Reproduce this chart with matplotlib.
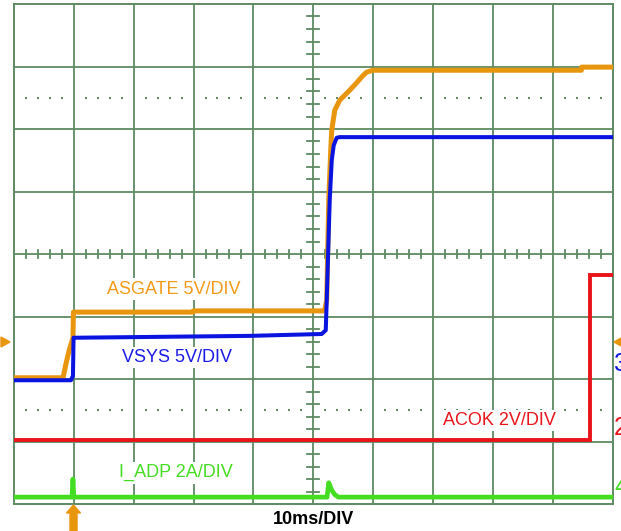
import matplotlib
matplotlib.use("Agg")
import matplotlib.pyplot as plt
import numpy as np

plt.rcParams['font.family'] = ['Liberation Sans', 'DejaVu Sans']

# time in ms (10 ms/div), level in screen divisions (0..8)
asgate_t = [0, 8.2, 8.7, 9.2, 9.85, 9.93, 29.9, 30.0, 51.9, 52.25, 52.59, 52.92, 53.09,
            53.59, 54.42, 55.26, 56.09, 57.26, 58.26, 58.93, 59.93, 94.8, 94.85, 99.9]
asgate_v = [2.02, 2.02, 2.25, 2.45, 2.66, 3.07, 3.07, 3.09, 3.09, 3.26, 4.86, 5.66, 5.98,
            6.30, 6.46, 6.54, 6.62, 6.74, 6.85, 6.91, 6.94, 6.94, 6.99, 6.99]

vsys_t = [0, 9.52, 9.85, 9.95, 39.4, 51.4, 52.09, 52.25, 52.75, 53.09, 53.42, 53.92, 54.42, 99.9]
vsys_v = [1.98, 1.98, 2.05, 2.66, 2.69, 2.72, 2.78, 3.26, 4.86, 5.50, 5.74, 5.86, 5.87, 5.87]

acok_t = [0, 96.2, 96.2, 99.9]
acok_v = [1.02, 1.02, 3.66, 3.66]

iadp_t = [0, 9.7, 9.85, 10.0, 52.3, 52.59, 53.1, 53.6, 54.2, 99.9]
iadp_v = [0.11, 0.11, 0.40, 0.11, 0.11, 0.34, 0.22, 0.15, 0.11, 0.11]

grid_c = "#5f8a62"
c_orange = "#e8960e"
c_blue = "#0a14e0"
c_red = "#e8141a"
c_green = "#44dd22"

W, H = 621, 531


def fpt(x, y):
    # pixel position -> figure fraction
    return [x / W, 1 - y / H]


fig = plt.figure(figsize=(6.21, 5.31), dpi=100)
ax = fig.add_axes([14 / W, 27 / H, 598.5 / W, 500 / H])
ax.set_xlim(0, 100)
ax.set_ylim(0, 8)
ax.set_xticks([])
ax.set_yticks([])
for s in ax.spines.values():
    s.set_color(grid_c)
    s.set_linewidth(1.4)

# graticule
for gx in range(10, 100, 10):
    ax.axvline(gx, color=grid_c, lw=1.3, zorder=1)
for gy in range(1, 8):
    ax.axhline(gy, color=grid_c, lw=1.3, zorder=1)

# center ticks
for tx in np.arange(2, 100, 2):
    if tx % 10:
        ax.plot([tx, tx], [4 - 0.065, 4 + 0.065], color=grid_c, lw=1.3, zorder=1)
for ty in np.arange(0.2, 8, 0.2):
    if abs(ty - round(ty)) > 0.01:
        ax.plot([49, 51], [ty, ty], color=grid_c, lw=1.3, zorder=1)

# dotted reference levels
dot_x = [x for x in np.arange(2, 100, 2) if x % 10]
for ly in (1.5, 6.5):
    ax.scatter(dot_x, [ly] * len(dot_x), s=2.0, marker="s", color=grid_c, lw=0, zorder=1)

# trace labels (white box hides the graticule)
lbl = dict(fontsize=13, ha="left", va="center", zorder=2,
           bbox=dict(facecolor="white", edgecolor="none", pad=1.5))
ax.text(15.5, 3.44, "ASGATE 5V/DIV", color="#f39a18", **lbl)
ax.text(18.0, 2.34, "VSYS 5V/DIV", color="#1a1ae6", **lbl)
ax.text(71.7, 1.34, "ACOK 2V/DIV", color=c_red, **lbl)
ax.text(17.5, 0.50, "I_ADP 2A/DIV", color=c_green, **lbl)

# traces
ax.plot(acok_t, acok_v, color=c_red, lw=2.8, zorder=3, solid_joinstyle="miter")
ax.plot(iadp_t, iadp_v, color=c_green, lw=3.4, zorder=3)
ax.plot(asgate_t, asgate_v, color=c_orange, lw=3.6, zorder=4)
ax.plot(vsys_t, vsys_v, color=c_blue, lw=2.9, zorder=5)

fig.text(313 / W, 1 - 520 / H, "10ms/DIV", fontsize=13, fontweight="bold",
         ha="center", va="center", color="black")

# trigger markers
fig.patches.append(plt.Polygon([fpt(1, 337), fpt(10, 342), fpt(1, 347)], closed=True,
                               transform=fig.transFigure, color=c_orange))
fig.patches.append(plt.Polygon([fpt(621, 338), fpt(614, 342), fpt(621, 346)], closed=True,
                               transform=fig.transFigure, color=c_orange))
fig.patches.append(plt.Polygon([fpt(73.5, 505), fpt(80.5, 513), fpt(77, 513), fpt(77, 531),
                                fpt(70, 531), fpt(70, 513), fpt(66.5, 513)], closed=True,
                               transform=fig.transFigure, color=c_orange))

# channel markers at right edge (cut off)
fig.text(614 / W, 1 - 364 / H, "3", color=c_blue, fontsize=18, ha="left", va="center")
fig.text(614 / W, 1 - 428 / H, "2", color=c_red, fontsize=18, ha="left", va="center")
fig.text(614 / W, 1 - 487 / H, "4", color=c_green, fontsize=18, ha="left", va="center")

fig.savefig("out.png", dpi=100)
